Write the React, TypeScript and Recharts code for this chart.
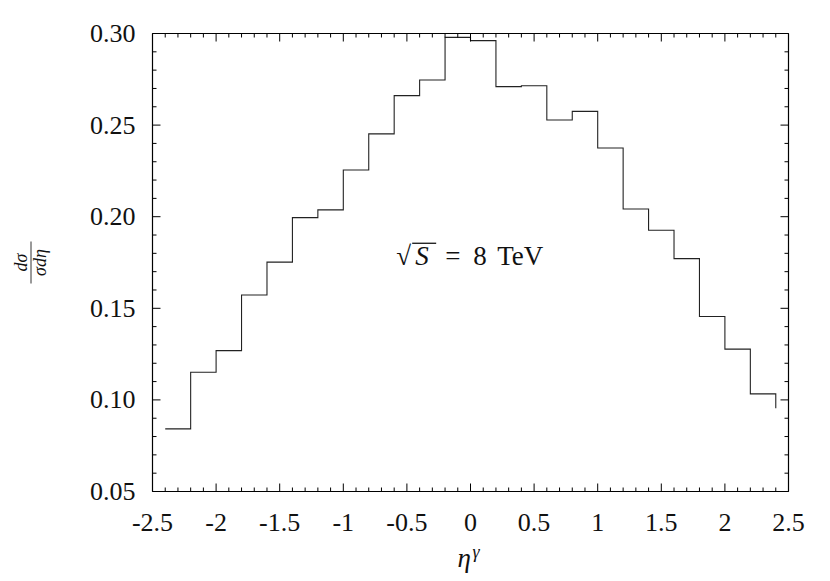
import React from 'react';
import { ComposedChart, Line, XAxis, YAxis, ReferenceDot } from 'recharts';

// Bin edges (eta^gamma) and normalised cross-section values (gnuplot "steps" style)
const etaEdges = [-2.4, -2.2, -2.0, -1.8, -1.6, -1.4, -1.2, -1.0, -0.8, -0.6, -0.4, -0.2, 0.0, 0.2, 0.4, 0.6, 0.8, 1.0, 1.2, 1.4, 1.6, 1.8, 2.0, 2.2, 2.4];
const dSigma = [0.0842, 0.1151, 0.1269, 0.1573, 0.1752, 0.1995, 0.2037, 0.2255, 0.2452, 0.2661, 0.2746, 0.2979, 0.2961, 0.2710, 0.2715, 0.2528, 0.2575, 0.2375, 0.2042, 0.1926, 0.1771, 0.1455, 0.1277, 0.1033, 0.0955];

const xMajorTicks = [-2.5, -2, -1.5, -1, -0.5, 0, 0.5, 1, 1.5, 2, 2.5];
const xMajorLabels = ['-2.5', '-2', '-1.5', '-1', '-0.5', '0', '0.5', '1', '1.5', '2', '2.5'];
const yMajorTicks = [0.05, 0.10, 0.15, 0.20, 0.25, 0.30];
const yMajorLabels = ['0.05', '0.10', '0.15', '0.20', '0.25', '0.30'];

const xAllTicks = Array.from({ length: 51 }, (_, i) => Math.round((-2.5 + i * 0.1) * 10) / 10);
const yAllTicks = Array.from({ length: 26 }, (_, i) => Math.round((0.05 + i * 0.01) * 100) / 100);

const data = etaEdges.map((e, i) => ({ eta: e, v: dSigma[i] }));

const FONT = 'Liberation Serif';
const FS = 26;
const MAJ = 8;
const MIN = 4;
const ts = (size: number, italic = false): React.CSSProperties => ({
  fontFamily: FONT,
  fontSize: size,
  fontStyle: italic ? 'italic' : 'normal',
  fill: '#111',
});

const xLabel = (v: number) => {
  const i = xMajorTicks.findIndex((t) => Math.abs(t - v) < 1e-6);
  return i >= 0 ? xMajorLabels[i] : null;
};
const yLabel = (v: number) => {
  const i = yMajorTicks.findIndex((t) => Math.abs(t - v) < 1e-6);
  return i >= 0 ? yMajorLabels[i] : null;
};

const BottomTick = (p: any) => {
  const { x, y, payload } = p;
  const lab = xLabel(payload.value);
  return (
    <g>
      <line x1={x} x2={x} y1={y} y2={y - (lab ? MAJ : MIN)} stroke="#000" strokeWidth={1} />
      {lab && (
        <text x={x} y={y + 39} textAnchor="middle" style={ts(FS)}>
          {lab}
        </text>
      )}
    </g>
  );
};
const TopTick = (p: any) => {
  const { x, y, payload } = p;
  const lab = xLabel(payload.value);
  return <line x1={x} x2={x} y1={y} y2={y + (lab ? MAJ : MIN)} stroke="#000" strokeWidth={1} />;
};
const LeftTick = (p: any) => {
  const { x, y, payload } = p;
  const lab = yLabel(payload.value);
  return (
    <g>
      <line x1={x} x2={x + (lab ? MAJ : MIN)} y1={y} y2={y} stroke="#000" strokeWidth={1} />
      {lab && (
        <text x={x - 17} y={y + 8.5} textAnchor="end" style={ts(FS)}>
          {lab}
        </text>
      )}
    </g>
  );
};
const RightTick = (p: any) => {
  const { x, y, payload } = p;
  const lab = yLabel(payload.value);
  return <line x1={x} x2={x - (lab ? MAJ : MIN)} y1={y} y2={y} stroke="#000" strokeWidth={1} />;
};

const YTitle = (p: any) => {
  const vb = p.viewBox || {};
  const cy = (vb.y ?? 33.5) + (vb.height ?? 458) / 2;
  const cx = 31;
  return (
    <g transform={`translate(${cx},${cy}) rotate(-90)`}>
      <text x={0} y={-4} textAnchor="middle" style={ts(18, true)}>dσ</text>
      <line x1={-21} x2={21} y1={0} y2={0} stroke="#000" strokeWidth={0.8} />
      <text x={0} y={15} textAnchor="middle" style={ts(18, true)}>σdη</text>
    </g>
  );
};

const XTitle = (p: any) => {
  const vb = p.viewBox || {};
  const cx = (vb.x ?? 152.5) + (vb.width ?? 636) / 2;
  return (
    <g>
      <text x={cx - 13} y={567} style={ts(27, true)}>η</text>
      <text x={cx + 2} y={558} style={ts(18, true)}>γ</text>
    </g>
  );
};

const Annotation = (p: any) => {
  const { cx, cy } = p;
  return (
    <g>
      <text x={cx + 2} y={cy} style={ts(27)}>√</text>
      <text x={cx + 21} y={cy} style={ts(27, true)}>S</text>
      <line x1={cx + 18} x2={cx + 42} y1={cy - 22} y2={cy - 22} stroke="#000" strokeWidth={1.2} />
      <text x={cx + 51} y={cy} style={ts(27)}>=</text>
      <text x={cx + 79} y={cy} style={ts(27)}>8</text>
      <text x={cx + 103} y={cy} style={ts(27)}>TeV</text>
    </g>
  );
};

export default function App() {
  return (
    <div style={{ position: 'absolute', left: 0, top: 0, background: '#fff' }}>
      <ComposedChart
        width={830}
        height={581}
        data={data}
        margin={{ top: 32.5, right: 40.5, bottom: 59.5, left: 92.5 }}
      >
        <XAxis
          xAxisId="b"
          dataKey="eta"
          type="number"
          domain={[-2.5, 2.5]}
          ticks={xAllTicks}
          interval={0}
          height={30}
          tickSize={0}
          tickMargin={0}
          tickLine={false}
          tick={<BottomTick />}
          axisLine={{ stroke: '#000', strokeWidth: 1.2 }}
          allowDataOverflow
          label={<XTitle />}
        />
        <XAxis
          xAxisId="t"
          orientation="top"
          dataKey="eta"
          type="number"
          domain={[-2.5, 2.5]}
          ticks={xAllTicks}
          interval={0}
          height={1}
          tickSize={0}
          tickMargin={0}
          tickLine={false}
          tick={<TopTick />}
          axisLine={{ stroke: '#000', strokeWidth: 1.2 }}
          allowDataOverflow
        />
        <YAxis
          yAxisId="l"
          type="number"
          domain={[0.05, 0.3]}
          ticks={yAllTicks}
          interval={0}
          width={60}
          tickSize={0}
          tickMargin={0}
          tickLine={false}
          tick={<LeftTick />}
          axisLine={{ stroke: '#000', strokeWidth: 1.2 }}
          allowDataOverflow
          label={<YTitle />}
        />
        <YAxis
          yAxisId="r"
          orientation="right"
          type="number"
          domain={[0.05, 0.3]}
          ticks={yAllTicks}
          interval={0}
          width={1}
          tickSize={0}
          tickMargin={0}
          tickLine={false}
          tick={<RightTick />}
          axisLine={{ stroke: '#000', strokeWidth: 1.2 }}
          allowDataOverflow
        />
        <Line
          xAxisId="t"
          yAxisId="r"
          dataKey="v"
          type="stepAfter"
          stroke="none"
          dot={false}
          isAnimationActive={false}
          legendType="none"
        />
        <Line
          xAxisId="b"
          yAxisId="l"
          dataKey="v"
          type="stepAfter"
          stroke="#222"
          strokeWidth={1.1}
          dot={false}
          isAnimationActive={false}
        />
        <ReferenceDot
          xAxisId="b"
          yAxisId="l"
          x={-0.6}
          y={0.1735}
          r={0}
          shape={<Annotation />}
        />
      </ComposedChart>
    </div>
  );
}
